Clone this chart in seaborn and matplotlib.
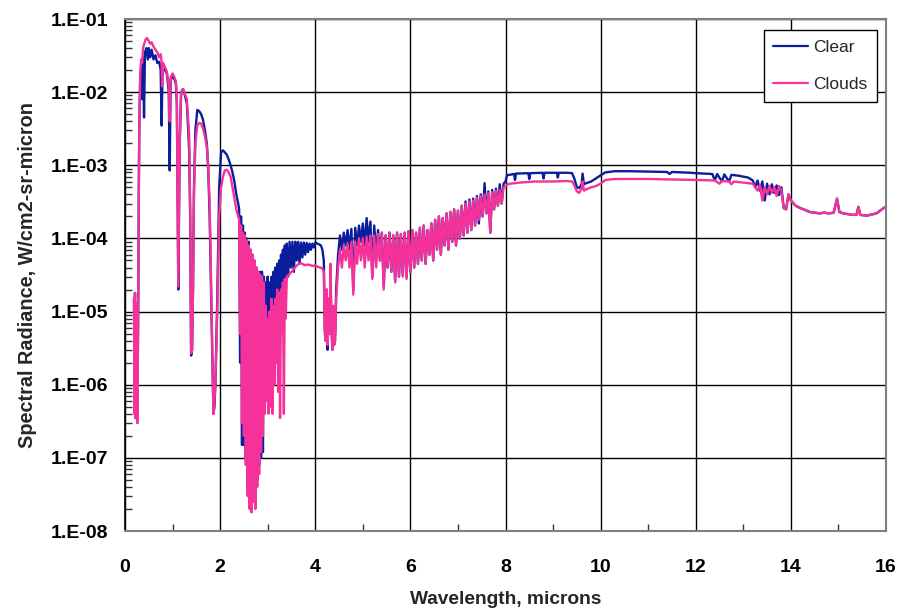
import matplotlib
matplotlib.use("Agg")
import matplotlib.pyplot as plt
import seaborn as sns
import pandas as pd
import numpy as np
from matplotlib.ticker import LogLocator, FixedLocator, FuncFormatter, NullFormatter

# ---------------- data ----------------
clear_x = [0.19, 0.20, 0.21, 0.22, 0.23, 0.24, 0.25, 0.26, 0.27, 0.28, 0.29, 0.30, 0.32, 0.34, 0.36, 0.38, 0.40, 0.42, 0.45, 0.48,
           0.50, 0.53, 0.56, 0.60, 0.64, 0.68, 0.72, 0.75, 0.77, 0.79, 0.84, 0.88, 0.92, 0.94, 0.96, 1.00, 1.04, 1.07, 1.09, 1.11,
           1.12, 1.13, 1.15, 1.18, 1.22, 1.26, 1.30, 1.33, 1.35, 1.37, 1.39, 1.41, 1.43, 1.45, 1.48, 1.52, 1.56, 1.60, 1.64, 1.68,
           1.72, 1.75, 1.78, 1.82, 1.86, 1.88, 1.90, 1.94, 1.98, 2.02, 2.06, 2.10, 2.14, 2.18, 2.22, 2.26, 2.30, 2.34, 2.38, 2.40,
           2.42, 2.44, 2.46, 2.48, 2.50, 2.52, 2.54, 2.56, 2.58, 2.60, 2.62, 2.64, 2.66, 2.68, 2.70, 2.72, 2.74, 2.76, 2.78, 2.80,
           2.82, 2.84, 2.86, 2.88, 2.90, 2.92, 2.94, 2.96, 2.98, 3.00, 3.02, 3.04, 3.06, 3.08, 3.10, 3.12, 3.14, 3.16, 3.18, 3.20,
           3.22, 3.24, 3.26, 3.28, 3.30, 3.32, 3.34, 3.36, 3.38, 3.40, 3.43, 3.46, 3.49, 3.52, 3.55, 3.58, 3.61, 3.64, 3.67, 3.70,
           3.73, 3.76, 3.79, 3.82, 3.85, 3.88, 3.91, 3.94, 3.97, 4.00, 4.04, 4.08, 4.12, 4.15, 4.18, 4.20, 4.22, 4.24, 4.26, 4.28,
           4.30, 4.32, 4.34, 4.36, 4.38, 4.40, 4.42, 4.44, 4.48, 4.52, 4.56, 4.60, 4.64, 4.68, 4.72, 4.76, 4.80, 4.84, 4.88, 4.92,
           4.96, 5.00, 5.04, 5.08, 5.12, 5.16, 5.20, 5.24, 5.28, 5.32, 5.36, 5.40, 5.44, 5.48, 5.52, 5.56, 5.60, 5.64, 5.68, 5.72,
           5.76, 5.80, 5.84, 5.88, 5.92, 5.96, 6.00, 6.04, 6.08, 6.12, 6.16, 6.20, 6.24, 6.28, 6.32, 6.36, 6.40, 6.44, 6.48, 6.52,
           6.56, 6.60, 6.64, 6.68, 6.72, 6.76, 6.80, 6.84, 6.88, 6.92, 6.96, 7.00, 7.04, 7.08, 7.12, 7.16, 7.20, 7.24, 7.28, 7.32,
           7.36, 7.40, 7.44, 7.48, 7.52, 7.56, 7.60, 7.64, 7.68, 7.72, 7.76, 7.80, 7.84, 7.88, 7.92, 7.96, 8.00, 8.03, 8.18, 8.20,
           8.22, 8.48, 8.50, 8.52, 8.78, 8.80, 8.82, 9.08, 9.10, 9.12, 9.30, 9.40, 9.45, 9.50, 9.55, 9.60, 9.62, 9.65, 9.70, 9.80,
           9.90, 10.0, 10.1, 10.3, 10.6, 11.0, 11.4, 11.45, 11.5, 11.9, 12.0, 12.35, 12.4, 12.45, 12.55, 12.6, 12.7, 12.75, 12.9, 13.0,
           13.1, 13.2, 13.25, 13.3, 13.35, 13.4, 13.45, 13.5, 13.55, 13.6, 13.65, 13.7, 13.75, 13.8, 13.85, 13.9, 13.95, 14.0, 14.1, 14.2,
           14.4, 14.6, 14.7, 14.8, 14.9, 14.97, 15.02, 15.1, 15.3, 15.38, 15.42, 15.46, 15.6, 15.8, 15.95, 16.0]
clear_y = [1.5e-5, 4e-7, 1.8e-5, 3.5e-7, 1.3e-5, 6e-7, 1e-5, 3e-7, 2e-6, 2e-5, 4e-4, 3e-3, 1.5e-2, 2.2e-2, 8e-3, 3e-2, 4.5e-3, 3.5e-2, 4e-2, 2.8e-2,
           4e-2, 3e-2, 3.8e-2, 2.8e-2, 3.2e-2, 2.5e-2, 2.6e-2, 2e-2, 3.5e-3, 2.3e-2, 2e-2, 1.8e-2, 1e-2, 8.5e-4, 1.5e-2, 1.6e-2, 1.5e-2, 1.3e-2, 7e-3, 2e-4,
           2e-5, 1e-4, 2e-3, 1e-2, 1.1e-2, 9e-3, 7e-3, 3e-3, 1.5e-3, 2e-4, 2.5e-6, 3e-6, 2e-5, 5e-4, 3e-3, 5.7e-3, 5.5e-3, 5e-3, 4.2e-3, 3e-3,
           2e-3, 8.7e-4, 2e-4, 8e-6, 4e-7, 5e-7, 1e-6, 1.5e-5, 5e-4, 1.5e-3, 1.6e-3, 1.5e-3, 1.4e-3, 1.2e-3, 1e-3, 8e-4, 6e-4, 4e-4, 3e-4, 2.5e-4,
           2e-6, 2e-4, 1.5e-7, 1.5e-4, 1.5e-7, 1.2e-4, 1e-7, 1e-4, 4e-8, 9e-5, 3e-8, 7e-5, 2.5e-8, 6e-5, 3e-8, 5e-5, 3e-8, 4e-5, 5e-8, 3.5e-5,
           8e-8, 3.5e-5, 1e-7, 3.5e-5, 1.2e-7, 3e-5, 5e-7, 2.5e-5, 2e-6, 3e-5, 2e-6, 2.5e-5, 3e-6, 3e-5, 2e-6, 3.5e-5, 4e-6, 4e-5, 3e-6, 4.5e-5,
           6e-6, 5e-5, 5e-6, 6e-5, 1e-5, 7e-5, 8e-6, 8e-5, 1.5e-5, 8.5e-5, 3e-5, 9e-5, 4e-5, 9e-5, 3.5e-5, 9e-5, 5e-5, 9e-5, 4.5e-5, 8.8e-5,
           5.5e-5, 8.8e-5, 6e-5, 8.7e-5, 6.5e-5, 8.5e-5, 7e-5, 8.5e-5, 7.5e-5, 8.8e-5, 8.5e-5, 8.3e-5, 8e-5, 7e-5, 5e-5, 6e-6, 4e-6, 2e-5, 3e-6, 1.5e-5,
           5e-6, 3e-5, 6e-6, 3e-6, 1e-5, 4e-6, 5e-6, 2e-5, 6e-5, 1.1e-4, 7e-5, 1.2e-4, 8e-5, 1.3e-4, 7e-5, 1.35e-4, 2e-5, 1.4e-4, 8e-5, 1.5e-4,
           9e-5, 1.6e-4, 8e-5, 1.9e-4, 9e-5, 1.7e-4, 3e-5, 1.5e-4, 6e-5, 1.3e-4, 5e-5, 1.2e-4, 2.2e-5, 1.1e-4, 4e-5, 1.2e-4, 3.5e-5, 1.1e-4, 2.6e-5, 1.2e-4,
           3e-5, 1.15e-4, 3.2e-5, 1.2e-4, 3e-5, 1.25e-4, 3.5e-5, 1.3e-4, 4e-5, 1.2e-4, 4.5e-5, 1.4e-4, 5e-5, 1.5e-4, 4.5e-5, 1.3e-4, 6e-5, 1.6e-4, 5e-5, 1.8e-4,
           7e-5, 2e-4, 6e-5, 1.9e-4, 8e-5, 2.2e-4, 7e-5, 2.3e-4, 9e-5, 2.5e-4, 8e-5, 2.4e-4, 1e-4, 2.8e-4, 1.1e-4, 3.2e-4, 1.2e-4, 3.4e-4, 1.3e-4, 3.5e-4,
           1.5e-4, 3.8e-4, 1.6e-4, 4e-4, 2e-4, 5.7e-4, 2.2e-4, 4.4e-4, 1.2e-4, 4.6e-4, 2.5e-4, 4.8e-4, 2.8e-4, 5.5e-4, 3e-4, 5.6e-4, 6e-4, 7.3e-4, 7.6e-4, 6.3e-4,
           7.7e-4, 7.8e-4, 6.5e-4, 7.8e-4, 7.9e-4, 6.6e-4, 7.9e-4, 7.9e-4, 6.8e-4, 7.9e-4, 7.9e-4, 7.8e-4, 6.5e-4, 5e-4, 4.9e-4, 5.5e-4, 7.7e-4, 5.5e-4, 5.7e-4, 6e-4,
           6.6e-4, 7.3e-4, 8e-4, 8.3e-4, 8.3e-4, 8.2e-4, 8.1e-4, 7.6e-4, 8.1e-4, 7.9e-4, 7.8e-4, 7.6e-4, 6.2e-4, 7.6e-4, 6e-4, 7.5e-4, 6e-4, 7.4e-4, 7.2e-4, 7e-4,
           6.8e-4, 6.2e-4, 5e-4, 6.2e-4, 4.5e-4, 6e-4, 3.3e-4, 5.6e-4, 4e-4, 5.5e-4, 4.2e-4, 5.3e-4, 3.9e-4, 5e-4, 2.6e-4, 2.5e-4, 4e-4, 3.3e-4, 2.8e-4, 2.6e-4,
           2.3e-4, 2.2e-4, 2.25e-4, 2.2e-4, 2.25e-4, 3.5e-4, 2.3e-4, 2.2e-4, 2.1e-4, 2.1e-4, 2.7e-4, 2.1e-4, 2.05e-4, 2.2e-4, 2.6e-4, 2.7e-4]

clouds_x = [0.19, 0.20, 0.21, 0.22, 0.23, 0.24, 0.25, 0.26, 0.27, 0.28, 0.29, 0.30, 0.32, 0.34, 0.36, 0.38, 0.40, 0.43, 0.46, 0.50,
            0.53, 0.56, 0.60, 0.64, 0.68, 0.72, 0.75, 0.77, 0.78, 0.80, 0.84, 0.88, 0.92, 0.94, 0.96, 1.00, 1.04, 1.07, 1.09, 1.11,
            1.12, 1.13, 1.15, 1.18, 1.22, 1.26, 1.30, 1.33, 1.35, 1.37, 1.39, 1.41, 1.43, 1.45, 1.48, 1.52, 1.56, 1.60, 1.64, 1.68,
            1.72, 1.75, 1.78, 1.82, 1.86, 1.88, 1.90, 1.94, 1.98, 2.02, 2.06, 2.10, 2.14, 2.18, 2.22, 2.26, 2.30, 2.34, 2.38, 2.40,
            2.42, 2.44, 2.46, 2.48, 2.50, 2.52, 2.54, 2.56, 2.58, 2.60, 2.62, 2.64, 2.66, 2.68, 2.70, 2.72, 2.74, 2.76, 2.78, 2.80,
            2.82, 2.84, 2.86, 2.88, 2.90, 2.92, 2.94, 2.96, 2.98, 3.00, 3.02, 3.04, 3.06, 3.08, 3.10, 3.12, 3.14, 3.16, 3.18, 3.20,
            3.22, 3.24, 3.26, 3.28, 3.30, 3.32, 3.34, 3.36, 3.38, 3.40, 3.45, 3.50, 3.55, 3.60, 3.65, 3.70, 3.75, 3.80, 3.85, 3.90,
            3.95, 4.00, 4.05, 4.10, 4.15, 4.18, 4.20, 4.22, 4.24, 4.26, 4.28, 4.30, 4.32, 4.34, 4.36, 4.38, 4.40, 4.42, 4.44, 4.48,
            4.52, 4.56, 4.60, 4.64, 4.68, 4.72, 4.76, 4.80, 4.84, 4.88, 4.92, 4.96, 5.00, 5.04, 5.08, 5.12, 5.16, 5.20, 5.24, 5.28,
            5.32, 5.36, 5.40, 5.44, 5.48, 5.52, 5.56, 5.60, 5.64, 5.68, 5.72, 5.76, 5.80, 5.84, 5.88, 5.92, 5.96, 6.00, 6.04, 6.08,
            6.12, 6.16, 6.20, 6.24, 6.28, 6.32, 6.36, 6.40, 6.44, 6.48, 6.52, 6.56, 6.60, 6.64, 6.68, 6.72, 6.76, 6.80, 6.84, 6.88,
            6.92, 6.96, 7.00, 7.04, 7.08, 7.12, 7.16, 7.20, 7.24, 7.28, 7.32, 7.36, 7.40, 7.44, 7.48, 7.52, 7.56, 7.60, 7.64, 7.68,
            7.72, 7.76, 7.80, 7.84, 7.88, 7.92, 7.96, 8.00, 8.05, 8.10, 8.30, 8.60, 9.00, 9.30, 9.40, 9.45, 9.50, 9.55, 9.60, 9.62,
            9.65, 9.70, 9.80, 9.90, 10.0, 10.1, 10.3, 11.0, 12.0, 12.4, 12.5, 12.55, 12.7, 12.75, 12.8, 13.0, 13.2, 13.3, 13.35, 13.4,
            13.45, 13.5, 13.55, 13.6, 13.65, 13.7, 13.75, 13.8, 13.85, 13.9, 13.95, 14.0, 14.1, 14.2, 14.4, 14.6, 14.7, 14.8, 14.9, 14.97,
            15.02, 15.1, 15.3, 15.38, 15.42, 15.46, 15.6, 15.8, 15.95, 16.0]
clouds_y = [1.5e-5, 4e-7, 1.8e-5, 3.5e-7, 1.3e-5, 6e-7, 1e-5, 3e-7, 2e-6, 2e-5, 4e-4, 3e-3, 1.8e-2, 2.8e-2, 2.5e-2, 4e-2, 4.5e-2, 5.2e-2, 5.5e-2, 5e-2,
            4.6e-2, 4.8e-2, 4.2e-2, 3.8e-2, 3.5e-2, 3e-2, 3.3e-2, 2.6e-2, 1.2e-2, 2.5e-2, 2.2e-2, 1.9e-2, 1.2e-2, 4e-3, 1.6e-2, 1.8e-2, 1.6e-2, 1.4e-2, 8e-3, 2e-4,
            2.2e-5, 1e-4, 2e-3, 1e-2, 1.1e-2, 9.5e-3, 8e-3, 4e-3, 2.5e-3, 3e-4, 2.7e-6, 3e-6, 2e-5, 4e-4, 2e-3, 3.5e-3, 3.8e-3, 3.7e-3, 3.2e-3, 2.5e-3,
            1.8e-3, 1e-3, 3e-4, 1e-5, 4e-7, 6e-7, 1e-6, 1e-5, 2e-4, 5e-4, 7e-4, 8.5e-4, 8.7e-4, 8e-4, 7e-4, 5e-4, 3.5e-4, 2.5e-4, 2e-4, 1.8e-4,
            5e-6, 1.5e-4, 3e-7, 1.2e-4, 2e-7, 1.1e-4, 8e-8, 9.5e-5, 3e-8, 8e-5, 2e-8, 7e-5, 1.8e-8, 6e-5, 2.5e-8, 5e-5, 2e-8, 4e-5, 4e-8, 3.5e-5,
            6e-8, 3.2e-5, 1.2e-7, 3e-5, 2e-7, 2.5e-5, 4e-7, 1.2e-5, 6e-7, 8e-6, 4e-7, 1e-5, 5e-7, 1.5e-5, 4e-7, 1.2e-5, 1e-6, 1.5e-5, 2e-6, 2e-5,
            8e-7, 1.8e-5, 3.5e-7, 2e-5, 5e-6, 2.5e-5, 4e-7, 2.8e-5, 8e-6, 3e-5, 3.2e-5, 3.5e-5, 3.8e-5, 4.2e-5, 4.5e-5, 4.6e-5, 4.4e-5, 4.3e-5, 4.4e-5, 4.3e-5,
            4.2e-5, 4.3e-5, 4.1e-5, 4e-5, 3.9e-5, 3.5e-5, 5e-6, 4e-6, 2e-5, 3.5e-6, 1.5e-5, 5e-6, 4.5e-5, 8e-6, 3e-6, 1.2e-5, 3.5e-6, 4e-6, 1.5e-5, 4e-5,
            7e-5, 4e-5, 8e-5, 5e-5, 8.5e-5, 4e-5, 9e-5, 1.7e-5, 9e-5, 4.5e-5, 1e-4, 5e-5, 1e-4, 4e-5, 1.05e-4, 5e-5, 1.1e-4, 2.8e-5, 1.1e-4, 4e-5,
            1.15e-4, 5e-5, 1.2e-4, 2e-5, 1.1e-4, 4e-5, 1.2e-4, 3.5e-5, 1.1e-4, 2.5e-5, 1.2e-4, 3e-5, 1.15e-4, 3e-5, 1.2e-4, 2.8e-5, 1.25e-4, 3.5e-5, 1.3e-4, 4e-5,
            1.2e-4, 4.5e-5, 1.4e-4, 5e-5, 1.5e-4, 4.5e-5, 1.3e-4, 6e-5, 1.6e-4, 5e-5, 1.8e-4, 7e-5, 2e-4, 6e-5, 1.9e-4, 8e-5, 2.2e-4, 7e-5, 2.3e-4, 9e-5,
            2.5e-4, 8e-5, 2.4e-4, 1e-4, 2.8e-4, 1.1e-4, 3e-4, 1.2e-4, 3.2e-4, 1.3e-4, 3.3e-4, 1.5e-4, 3.6e-4, 1.8e-4, 3.8e-4, 2e-4, 4e-4, 2.2e-4, 4.2e-4, 1.2e-4,
            4.3e-4, 2.5e-4, 4.5e-4, 2.8e-4, 4.6e-4, 3e-4, 5e-4, 5.2e-4, 5.5e-4, 5.6e-4, 5.8e-4, 6e-4, 6e-4, 6.1e-4, 6e-4, 5.3e-4, 4.4e-4, 4.2e-4, 4.8e-4, 6e-4,
            4.5e-4, 4.7e-4, 5e-4, 5.2e-4, 5.6e-4, 6.3e-4, 6.5e-4, 6.5e-4, 6.3e-4, 6.2e-4, 5.6e-4, 6.1e-4, 6e-4, 5.5e-4, 6e-4, 5.8e-4, 5.6e-4, 4.5e-4, 5.4e-4, 3.3e-4,
            5e-4, 4e-4, 5.2e-4, 4.2e-4, 5e-4, 3.8e-4, 5.2e-4, 4.5e-4, 2.6e-4, 2.5e-4, 4e-4, 3.3e-4, 2.8e-4, 2.6e-4, 2.3e-4, 2.2e-4, 2.25e-4, 2.2e-4, 2.25e-4, 3.5e-4,
            2.3e-4, 2.2e-4, 2.1e-4, 2.1e-4, 2.7e-4, 2.1e-4, 2.05e-4, 2.2e-4, 2.6e-4, 2.7e-4]

series_names = ["Clear", "Clouds"]
series_colors = ["#0A1E9C", "#F5329A"]
x_ticks = [0, 2, 4, 6, 8, 10, 12, 14, 16]
y_ticks = [1e-8, 1e-7, 1e-6, 1e-5, 1e-4, 1e-3, 1e-2, 1e-1]

df = pd.concat([
    pd.DataFrame({"x": clear_x, "y": clear_y, "series": "Clear"}),
    pd.DataFrame({"x": clouds_x, "y": clouds_y, "series": "Clouds"}),
], ignore_index=True)

sns.set_theme(style="white")
plt.rcParams["font.family"] = ["Liberation Sans", "DejaVu Sans"]

fig = plt.figure(figsize=(8.99, 6.09), dpi=100)
ax = fig.add_axes([125 / 899, 78 / 609, 761 / 899, 512 / 609])

sns.lineplot(data=df, x="x", y="y", hue="series", hue_order=series_names,
             palette=dict(zip(series_names, series_colors)), estimator=None,
             sort=False, linewidth=1.7, ax=ax)

ax.set_yscale("log")
ax.set_xlim(0, 16)
ax.set_ylim(1e-8, 1e-1)

ax.xaxis.set_major_locator(FixedLocator(x_ticks))
ax.xaxis.set_minor_locator(FixedLocator([1, 3, 5, 7, 9, 11, 13, 15]))
ax.yaxis.set_major_locator(FixedLocator(y_ticks))
ax.yaxis.set_minor_locator(LogLocator(base=10, subs=np.arange(2, 10), numticks=20))
ax.yaxis.set_minor_formatter(NullFormatter())

def efmt(v, pos):
    e = int(round(np.log10(v)))
    return "1.E-%02d" % (-e) if e < 0 else "1.E+%02d" % e

ax.yaxis.set_major_formatter(FuncFormatter(efmt))

ax.grid(True, which="major", color="#000000", linewidth=1.0)
ax.tick_params(axis="both", which="major", length=0, labelsize=14, colors="#000000")
ax.tick_params(axis="x", which="major", pad=20)
ax.tick_params(axis="y", which="major", pad=12)
ax.tick_params(axis="x", which="minor", direction="in", length=5, width=1, color="#333333", bottom=True)
ax.tick_params(axis="y", which="minor", direction="in", length=5, width=1, color="#333333", left=True)
for lab in ax.get_xticklabels() + ax.get_yticklabels():
    lab.set_fontweight("bold")

for side in ["top", "right", "bottom"]:
    ax.spines[side].set_color("#7F7F7F")
    ax.spines[side].set_linewidth(1.5)
ax.spines["left"].set_color("#000000")
ax.spines["left"].set_linewidth(1.2)

ax.set_xlabel("Wavelength, microns", fontsize=13.8, fontweight="bold", labelpad=11)
ax.set_ylabel("Spectral Radiance, W/cm2-sr-micron", fontsize=14.3, fontweight="bold", labelpad=10)

leg = ax.legend(loc="upper right", bbox_to_anchor=(877 / 899, 579 / 609), bbox_transform=fig.transFigure,
                borderaxespad=0, frameon=True, fancybox=False, edgecolor="#000000", framealpha=1, fontsize=12.5,
                handlelength=2.0, handletextpad=0.3, labelspacing=1.3, borderpad=0.55)
leg.get_frame().set_linewidth(1.0)
for h in leg.get_lines():
    h.set_linewidth(1.6)

fig.savefig("out.png", dpi=100)
